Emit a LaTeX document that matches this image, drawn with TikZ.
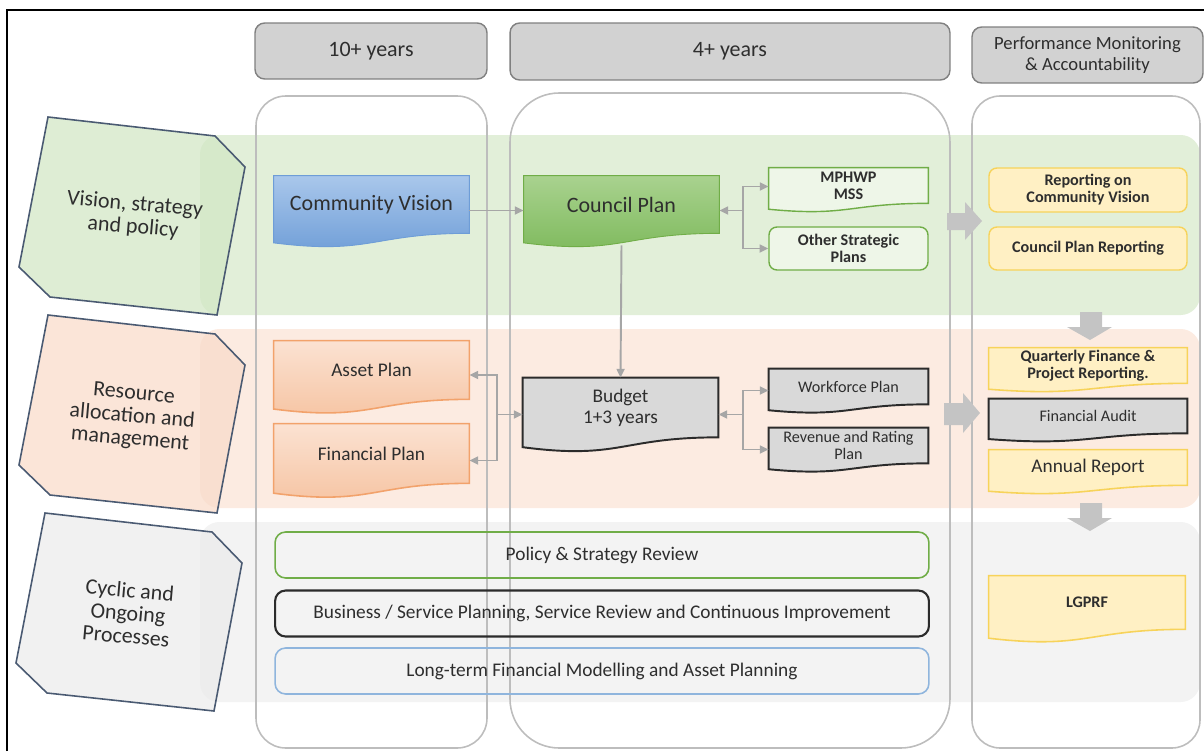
\documentclass[tikz,border=0pt]{standalone}
\usepackage{fontspec}
\setmainfont{Carlito}
\usetikzlibrary{calc,arrows.meta}

\definecolor{txt}{HTML}{2E2E2E}
\definecolor{bandgreen}{HTML}{E2EFD9}
\definecolor{bandpeach}{HTML}{FCEBE1}
\definecolor{bandgray}{HTML}{F3F3F3}
\definecolor{lblgreen}{HTML}{D3E7C6}
\definecolor{lblpeach}{HTML}{F9DCCB}
\definecolor{lblgray}{HTML}{ECECEC}
\definecolor{lblline}{HTML}{4A5A72}
\definecolor{colline}{HTML}{BDBDBD}
\definecolor{hdrfill}{HTML}{D2D2D2}
\definecolor{hdrline}{HTML}{808080}
\definecolor{connc}{HTML}{A6A6A6}
\definecolor{arrfill}{HTML}{C4C4C4}
\definecolor{bluetop}{HTML}{A9C7EB}
\definecolor{bluebot}{HTML}{6E9DD7}
\definecolor{greentop}{HTML}{A9D28F}
\definecolor{greenbot}{HTML}{7DB95B}
\definecolor{greenline}{HTML}{70AD47}
\definecolor{palegreen}{HTML}{EEF6E8}
\definecolor{orangetop}{HTML}{FBE2D2}
\definecolor{orangebot}{HTML}{F6C3A1}
\definecolor{orangeline}{HTML}{F2A26B}
\definecolor{grayfill}{HTML}{D9D9D9}
\definecolor{darkline}{HTML}{2B2B2B}
\definecolor{yellowfill}{HTML}{FFF0C4}
\definecolor{yellowline}{HTML}{F7D35A}
\definecolor{bluelinelt}{HTML}{8FB5DD}

\pgfdeclarelayer{bg}
\pgfsetlayers{bg,main}

% wavy bottom of a document box, drawn round a node
\newcommand{\docpath}[2]{%
  \path[#2] let \p1=(#1.north west), \p2=(#1.south east), \n1={\y1-\y2} in
    (\x1,\y1) -- (\x2,\y1) -- (\x2,\y2)
    .. controls ({0.5*\x1+0.5*\x2},\y2) and ({0.5*\x1+0.5*\x2},{\y2-0.38*\n1}) ..
    (\x1,{\y2-0.165*\n1}) -- cycle;}

\tikzset{
  base/.style={align=center, text=txt, inner sep=1pt},
  fbig/.style={font=\fontsize{12.5}{13.5}\selectfont},
  fmid/.style={font=\fontsize{11}{11.8}\selectfont},
  fsmall/.style={font=\fontsize{9.2}{9.6}\selectfont\bfseries},
  fplain/.style={font=\fontsize{9.2}{9.6}\selectfont},
  frow/.style={font=\fontsize{11}{12}\selectfont},
  hdr/.style={base, fill=hdrfill, draw=hdrline, line width=0.8pt, rounded corners=5.5pt},
  colbox/.style={draw=colline, line width=0.9pt},
  rowlbl/.style={draw=lblline, line width=0.9pt, fill opacity=0.75},
  lbltxt/.style={base, rotate=-5, font=\fontsize{12.5}{13}\selectfont},
  conn/.style={draw=connc, line width=1.1pt, -{Triangle[length=5pt,width=4.5pt]}},
  blockarr/.style={fill=arrfill},
  docblue/.style={top color=bluetop, bottom color=bluebot, draw=bluebot, line width=0.5pt},
  docgreen/.style={top color=greentop, bottom color=greenbot, draw=greenline, line width=0.5pt},
  docpale/.style={fill=palegreen, draw=greenline, line width=0.8pt},
  docorange/.style={top color=orangetop, bottom color=orangebot, draw=orangeline, line width=0.9pt},
  docgray/.style={fill=grayfill, draw=darkline, line width=1.1pt},
  docyellow/.style={fill=yellowfill, draw=yellowline, line width=0.9pt},
  roundbox/.style={base, rounded corners=4.5pt, line width=0.8pt},
  rowbox/.style={base, frow, rounded corners=6pt, line width=0.9pt,
    minimum width=13.08cm, minimum height=0.92cm},
}

\begin{document}
\begin{tikzpicture}[x=0.02cm, y=-0.02cm]
\useasboundingbox (0,0) rectangle (1204,751);

% bands, columns and row labels
\begin{pgfonlayer}{bg}
  \fill[bandgreen, rounded corners=11pt] (200,135) rectangle (1200,315);
  \fill[bandpeach, rounded corners=11pt] (200,329) rectangle (1200,508);
  \fill[bandgray, rounded corners=11pt] (200,522) rectangle (1200,702);
  \draw[colbox, rounded corners=17pt] (256,96) rectangle (487,748);
  \draw[colbox, rounded corners=28pt] (510,93) rectangle (950,748);
  \draw[colbox, rounded corners=16pt] (972,96) rectangle (1200,748);
  \foreach \dx/\dy/\col in {0/0/lblgreen, 0/198/lblpeach, -3/396/lblgray}
    \filldraw[rowlbl, fill=\col, shift={(\dx,\dy)}]
      (48,117) -- (215,136) -- (245,167) -- (217,315) -- (50,297) -- (19,267) -- cycle;
\end{pgfonlayer}

\draw[line width=1.4pt] (7,751) -- (7,10) -- (1204,10);

% headers
\node[hdr, fbig, minimum width=4.64cm, minimum height=1.12cm] (h1) at (371,51) {10+ years};
\node[hdr, fbig, minimum width=8.8cm, minimum height=1.14cm] (h2) at (730,51.5) {4+ years};
\node[hdr, font=\fontsize{10.6}{11.5}\selectfont, minimum width=4.62cm, minimum height=1.12cm] (h3) at (1087.5,55) {Performance Monitoring\\\& Accountability};

% row labels
\node[lbltxt] (lv) at (134,216) {Vision, strategy\\and policy};
\node[lbltxt] (lr) at (132,417) {Resource\\allocation and\\management};
\node[lbltxt] (lc) at (128,613) {Cyclic and\\Ongoing\\Processes};

% vision, strategy and policy
\node[base, fbig, minimum width=3.9cm, minimum height=1.14cm] (cv) at (371.5,204.5) {Community Vision};
\node[base, fbig, minimum width=3.9cm, minimum height=1.14cm] (cp) at (621.5,204.5) {Council Plan};
\node[base, fsmall, minimum width=3.18cm, minimum height=0.7cm] (mp) at (848.5,185.5) {MPHWP\\MSS};
\node[roundbox, fsmall, fill=palegreen, draw=greenline, minimum width=3.18cm, minimum height=0.86cm] (os) at (848.5,248.5) {Other Strategic\\Plans};
\node[roundbox, fsmall, fill=yellowfill, draw=yellowline, minimum width=3.96cm, minimum height=0.88cm] (rcv) at (1088,190) {Reporting on\\Community Vision};
\node[roundbox, fsmall, fill=yellowfill, draw=yellowline, minimum width=3.96cm, minimum height=0.86cm] (cpr) at (1088,248.5) {Council Plan Reporting};

% resource allocation and management
\node[base, fmid, minimum width=3.9cm, minimum height=1.16cm] (asset) at (371.5,370) {Asset Plan};
\node[base, fmid, minimum width=3.9cm, minimum height=1.18cm] (fin) at (371.5,453.5) {Financial Plan};
\node[base, fmid, minimum width=3.9cm, minimum height=1.18cm] (bud) at (620.5,407.5) {Budget\\1+3 years};
\node[base, fplain, minimum width=3.18cm, minimum height=0.7cm] (wf) at (848.5,386.5) {Workforce Plan};
\node[base, fplain, minimum width=3.18cm, minimum height=0.7cm] (rev) at (848.5,445.5) {Revenue and Rating\\Plan};
\node[base, fsmall, minimum width=3.96cm, minimum height=0.7cm] (qfr) at (1088,365.5) {Quarterly Finance \&\\Project Reporting.};
\node[base, fplain, minimum width=3.96cm, minimum height=0.68cm] (fa) at (1088,416) {Financial Audit};
\node[base, fmid, minimum width=3.96cm, minimum height=0.7cm] (ar) at (1088,467.5) {Annual Report};

% cyclic and ongoing processes
\node[rowbox, draw=greenline] (pol) at (602,555) {Policy \& Strategy Review};
\node[rowbox, draw=darkline, line width=1.2pt] (bus) at (602,613.5) {Business / Service Planning, Service Review and Continuous Improvement};
\node[rowbox, draw=bluelinelt] (ltf) at (602,671) {Long-term Financial Modelling and Asset Planning};
\node[base, fsmall, minimum width=3.92cm, minimum height=1.06cm] (lg) at (1087,602.5) {LGPRF};

\begin{pgfonlayer}{bg}
  \docpath{cv}{docblue}
  \docpath{cp}{docgreen}
  \docpath{mp}{docpale}
  \docpath{asset}{docorange}
  \docpath{fin}{docorange}
  \docpath{bud}{docgray}
  \docpath{wf}{docgray}
  \docpath{rev}{docgray}
  \docpath{qfr}{docyellow}
  \docpath{fa}{docgray}
  \docpath{ar}{docyellow}
  \docpath{lg}{docyellow}
\end{pgfonlayer}

% connectors
\draw[conn] ($(cv.east)+(0,6)$) -- ($(cp.west)+(0,6)$);
\coordinate (j1) at ($(cp.east)+(24,6)$);
\draw[conn] (j1) -- (j1 -| cp.east);
\draw[conn] (j1) |- ($(mp.west)+(0,1)$);
\draw[conn] (j1) |- (os.west);
\draw[conn] ($(cp.south)+(0,12)$) -- (bud.north);
\coordinate (j2) at ($(bud.west)+(-26,7)$);
\draw[conn] (j2) -- (j2 -| bud.west);
\draw[conn] (j2) |- ($(asset.east)+(0,5)$);
\draw[conn] (j2) |- ($(fin.east)+(0,7)$);
\coordinate (j3) at ($(bud.east)+(25,7)$);
\draw[conn] (j3) -- (j3 -| bud.east);
\draw[conn] (j3) |- ($(wf.west)+(0,4)$);
\draw[conn] (j3) |- ($(rev.west)+(0,4)$);

% block arrows
\fill[blockarr] (947,213) -- (965,213) -- (965,202) -- (982,221) -- (965,240) -- (965,230) -- (947,230) -- cycle;
\fill[blockarr] (944,403) -- (963,403) -- (963,393) -- (980,413) -- (963,433) -- (963,425) -- (944,425) -- cycle;
\fill[blockarr] (1080,312) -- (1102,312) -- (1102,327) -- (1112,327) -- (1090,340) -- (1067,327) -- (1080,327) -- cycle;
\fill[blockarr] (1080,503) -- (1102,503) -- (1102,518) -- (1112,518) -- (1090,531) -- (1067,518) -- (1080,518) -- cycle;
\end{tikzpicture}
\end{document}
